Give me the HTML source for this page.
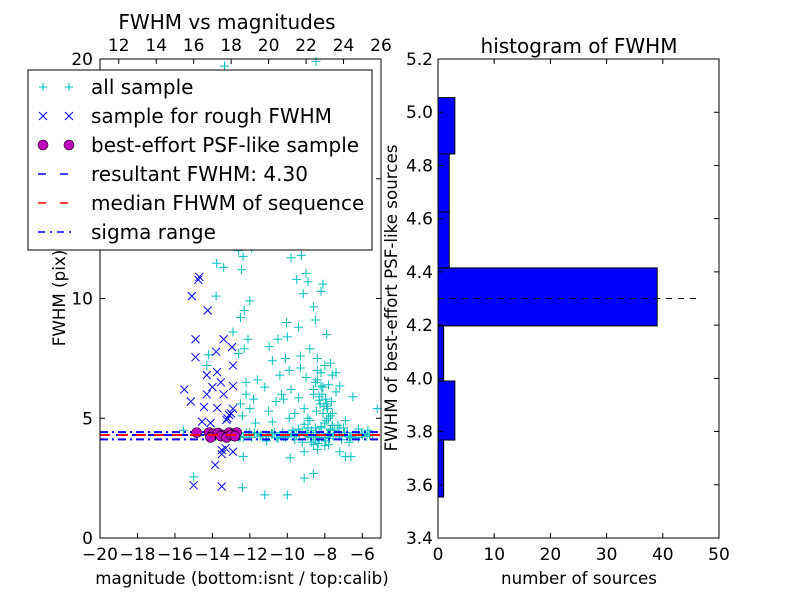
<!DOCTYPE html>
<html><head><meta charset="utf-8">
<style>
body{margin:0;background:#fff;}
svg{display:block;font-family:"DejaVu Sans","Liberation Sans",sans-serif;}
</style></head>
<body>
<svg id="chart" width="800" height="600" xmlns="http://www.w3.org/2000/svg">
<rect x="0" y="0" width="800" height="600" fill="#fff"/>
<g id="left"></g>
<g id="right"></g>
</svg>
<script>
// ---- scatter data (magnitude, FWHM) ----
const allMag = [-13.35,-8.47,-12.6,-11.9,-9.8,-13.4,-13.77,-12.36,-12.44,-13.8,-12.0,-12.3,-12.5,-12.9,-12.1,-12.3,-14.2,-14.3,-12.6,-10.97,-10.5,-10.04,-9.5,-9.25,-9.0,-8.9,-8.1,-8.2,-9.15,-8.6,-8.5,-9.4,-10.0,-7.9,-10.1,-10.8,-10.4,-9.9,-9.3,-8.8,-8.4,-7.7,-7.4,-9.3,-9.0,-8.4,-8.5,-8.2,-8.6,-9.1,-8.9,-8.3,-7.9,-7.6,-7.2,-6.5,-6.9,-5.2,-12.2,-11.6,-11.2,-12.2,-11.8,-12.5,-12.0,-12.4,-11.0,-10.6,-10.3,-9.8,-10.2,-9.4,-9.6,-9.9,-10.8,-11.7,-7.2,-6.2,-5.7,-7.6,-8.5,-9.1,-12.35,-9.85,-9.1,-8.6,-12.4,-11.2,-10.0,-6.9,-6.6,-7.2,-8.4,-9.1,-7.8,-15.0,-15.55,
-12.8,-12.5,-12.2,-11.9,-11.6,-11.3,-11.0,-10.7,-10.4,-10.1,-9.8,-9.5,-9.2,-8.9,-8.6,-8.3,-8.0,-7.7,-7.4,-7.1,-6.8,-6.5,-6.2,-5.9,-5.6,-12.6,-12.0,-11.4,-10.8,-10.2,-9.6,-9.0,-8.4,-7.8,-7.2,-6.6,-6.0,-8.2,-8.0,-7.8,-7.6,-8.1,-7.9,-7.7,-8.3,-8.7,-8.8,-7.5,-7.3,-7.0,-8.05,-7.85,-8.25,-7.95,-8.45,-7.65,-8.15,
-12.65,-12.35,-12.05,-11.75,-11.45,-11.15,-10.85,-10.55,-10.25,-9.95,-9.65,-9.35,-9.05,-8.75,-8.45,-8.15,-7.85,-7.55,-7.25,-6.95,-6.65,-6.35,-6.05,-5.75,-5.45,-8.6,-8.4,-8.2,-8.0,-7.8,-7.6,-7.4,-8.3,-8.1,-7.9,-7.7,-8.5,-8.35,-7.95,-7.75,-8.0,-8.2,-7.7,-8.6,-9.2,-9.6,-10.5,-11.1,-7.1,-6.7,-8.9,-8.7,-9.4,-9.7];
const allFwhm = [19.7,19.9,12.0,12.1,11.7,11.3,11.47,11.75,11.2,10.1,9.9,9.5,9.2,8.6,8.3,7.9,7.65,7.2,7.7,7.99,8.3,9.0,10.8,11.8,11.05,10.7,10.6,10.3,10.2,9.65,9.1,8.8,8.4,8.5,7.5,7.4,6.8,7.0,7.6,7.9,7.5,7.3,6.9,7.1,6.7,7.0,6.5,6.35,6.0,5.4,5.0,5.75,5.6,5.2,6.35,5.9,4.9,5.4,6.5,6.6,6.3,6.0,5.8,5.6,5.4,5.1,5.3,5.7,6.0,6.2,5.8,5.85,5.2,5.0,4.85,4.8,4.6,4.55,4.5,4.7,4.6,4.75,3.4,3.35,2.5,2.7,2.1,1.8,1.8,3.4,3.4,3.6,3.7,3.6,3.9,2.55,4.5,
4.3,4.25,4.4,4.2,4.35,4.3,4.25,4.4,4.3,4.2,4.35,4.3,4.45,4.25,4.3,4.4,4.2,4.35,4.3,4.25,4.4,4.3,4.2,4.35,4.3,4.2,4.4,4.3,4.35,4.25,4.3,4.4,4.2,4.35,4.3,4.25,4.3,4.6,4.8,5.0,4.7,5.2,4.9,4.55,4.1,4.0,4.9,4.5,4.7,4.6,5.5,5.4,5.6,5.8,5.3,5.7,6.0,
4.35,4.2,4.3,4.4,4.25,4.3,4.35,4.2,4.4,4.3,4.25,4.35,4.3,4.2,4.4,4.3,4.35,4.25,4.3,4.4,4.2,4.3,4.35,4.25,4.3,6.2,6.6,6.9,7.2,6.4,6.8,6.1,5.9,6.3,5.5,5.1,4.1,3.95,4.05,4.15,3.85,4.65,4.5,3.9,4.0,4.1,4.15,4.05,4.1,4.0,4.6,4.5,4.55,4.5];
const roughMag = [-14.75,-14.7,-15.1,-14.25,-14.9,-14.9,-13.4,-12.95,-12.9,-13.8,-14.3,-13.75,-15.5,-15.15,-13.55,-14.3,-13.4,-12.9,-14.0,-14.45,-13.75,-12.9,-13.25,-13.1,-14.55,-14.1,-13.5,-13.3,-12.9,-13.5,-13.85,-15.0,-13.5,-13.2,-13.0];
const roughFwhm = [10.78,10.9,10.1,9.5,8.3,7.55,8.3,7.97,7.2,7.78,6.8,6.93,6.2,5.7,6.5,6.0,6.0,6.35,6.3,5.47,5.43,5.4,4.93,5.13,4.86,4.8,3.67,3.75,3.6,3.5,3.05,2.2,2.15,5.0,5.2];
const bestMag = [-14.84,-14.18,-13.96,-13.7,-13.43,-13.1,-12.9,-12.7,-14.1,-13.55,-13.25,-13.0,-12.8];
const bestFwhm = [4.4,4.4,4.35,4.38,4.3,4.4,4.35,4.4,4.2,4.25,4.2,4.3,4.25];
const resultFwhm = 4.30, medianFwhm = 4.30, sigmaLow = 4.12, sigmaHigh = 4.42;
const bottomTicks = [-20,-18,-16,-14,-12,-10,-8,-6];
const topTicks = [12,14,16,18,20,22,24,26];
const leftYTicks = [0,5,10,15,20];
// ---- histogram data ----
const binEdges = [3.554,3.768,3.99,4.197,4.415,4.625,4.843,5.055];
const binCounts = [1,3,1,39,2,2,3];
const histYTicks = [3.4,3.6,3.8,4.0,4.2,4.4,4.6,4.8,5.0,5.2];
const histXTicks = [0,10,20,30,40,50];

const NS="http://www.w3.org/2000/svg";
function mk(parent,tag,attrs,text){const e=document.createElementNS(NS,tag);for(const k in attrs)e.setAttribute(k,attrs[k]);if(text!==undefined)e.textContent=text;parent.appendChild(e);return e;}
const fmtNum=v=>String(v).replace('-','\u2212');
const TF=17;

// Left axes
const L={x0:100,x1:381,y0:59,y1:538};
const lx=m=>L.x0+(m+20)/15*(L.x1-L.x0);
const ly=f=>L.y1-f/20*(L.y1-L.y0);
const tx=t=>lx(t-31);
const left=document.getElementById('left');
mk(left,'rect',{x:L.x0,y:L.y0,width:L.x1-L.x0,height:L.y1-L.y0,fill:'#fff'});
const pts=mk(left,'g',{});

const P=4.5;
allMag.forEach((m,i)=>{const x=lx(m),y=ly(allFwhm[i]);
 const p=mk(pts,'path',{d:`M${x-P},${y}H${x+P}M${x},${y-P}V${y+P}`,stroke:'#00bfbf','stroke-width':1,fill:'none'});
 });
const rg=mk(left,'g',{});

roughMag.forEach((m,i)=>{const x=lx(m),y=ly(roughFwhm[i]);
 const p=mk(rg,'path',{d:`M${x-4},${y-4}L${x+4},${y+4}M${x-4},${y+4}L${x+4},${y-4}`,stroke:'#0000ff','stroke-width':1,fill:'none'});
 });
function hline(g,f,color,dash,name){const l=mk(g,'line',{x1:L.x0,x2:L.x1,y1:ly(f),y2:ly(f),stroke:color,'stroke-width':2,'stroke-dasharray':dash});
 }
hline(left,sigmaHigh,'#0000ff','8,4,2,4','sigma-upper-line');
hline(left,sigmaLow,'#0000ff','8,4,2,4','sigma-lower-line');
hline(left,resultFwhm,'#0000ff','8,8','resultant-fwhm-line');
const bg=mk(left,'g',{});

bestMag.forEach((m,i)=>{const c=mk(bg,'circle',{cx:lx(m),cy:ly(bestFwhm[i]),r:5,fill:'#bf00bf',stroke:'#000','stroke-width':0.6});
 });
hline(left,medianFwhm,'#ff0000','10,8','median-fwhm-line');
mk(left,'rect',{x:L.x0,y:L.y0,width:L.x1-L.x0,height:L.y1-L.y0,fill:'none',stroke:'#000','stroke-width':1});
bottomTicks.forEach(t=>{const x=lx(t);mk(left,'path',{d:`M${x},${L.y1}v-5`,stroke:'#000'});
 const tl=mk(left,'text',{x:x,y:560,'font-size':TF,'text-anchor':'middle'},fmtNum(t));
 });
topTicks.forEach(t=>{const x=tx(t);mk(left,'path',{d:`M${x},${L.y0}v5`,stroke:'#000'});
 const tl=mk(left,'text',{x:x,y:51,'font-size':TF,'text-anchor':'middle'},fmtNum(t));
 });
leftYTicks.forEach(t=>{const y=ly(t);mk(left,'path',{d:`M${L.x0},${y}h5M${L.x1},${y}h-5`,stroke:'#000'});
 const tl=mk(left,'text',{x:93,y:y+6,'font-size':TF,'text-anchor':'end'},fmtNum(t));
 });
let t=mk(left,'text',{x:227,y:29,'font-size':20,'text-anchor':'middle'},'FWHM vs magnitudes');

t=mk(left,'text',{x:242,y:584,'font-size':16.7,'text-anchor':'middle'},'magnitude (bottom:isnt / top:calib)');

t=mk(left,'text',{x:0,y:0,'font-size':16.7,'text-anchor':'middle',transform:'translate(65,298) rotate(-90)'},'FWHM (pix)');

// legend
const lg=mk(left,'g',{});

mk(lg,'rect',{x:28,y:70,width:344,height:180,fill:'#fff',stroke:'#000','stroke-width':1});
const labels=['all sample','sample for rough FWHM','best-effort PSF-like sample','resultant FWHM: 4.30','median FHWM of sequence','sigma range'];
labels.forEach((s,i)=>{const y=87+i*29;
 const e=mk(lg,'g',{});
 if(i===0)[43,69].forEach(x=>mk(e,'path',{d:`M${x-4},${y}H${x+4}M${x},${y-4}V${y+4}`,stroke:'#00bfbf'}));
 if(i===1)[43,69].forEach(x=>mk(e,'path',{d:`M${x-4},${y-4}L${x+4},${y+4}M${x-4},${y+4}L${x+4},${y-4}`,stroke:'#0000ff'}));
 if(i===2)[43,69].forEach(x=>mk(e,'circle',{cx:x,cy:y,r:5,fill:'#bf00bf',stroke:'#000','stroke-width':0.6}));
 if(i===3)mk(e,'line',{x1:38,x2:76,y1:y,y2:y,stroke:'#0000ff','stroke-width':1.5,'stroke-dasharray':'8,14'});
 if(i===4)mk(e,'line',{x1:38,x2:76,y1:y,y2:y,stroke:'#ff0000','stroke-width':1.5,'stroke-dasharray':'8,14'});
 if(i===5)mk(e,'line',{x1:38,x2:76,y1:y,y2:y,stroke:'#0000ff','stroke-width':1.5,'stroke-dasharray':'7,5,2,5'});
 mk(e,'text',{x:91,y:y+7,'font-size':20},s);});

// Right axes
const R={x0:438,x1:719,y0:59,y1:538};
const rx=c=>R.x0+c/50*(R.x1-R.x0);
const ry=v=>R.y1-(v-3.4)/1.8*(R.y1-R.y0);
const right=document.getElementById('right');
const bars=mk(right,'g',{});

binCounts.forEach((c,i)=>{const y=ry(binEdges[i+1]),h=ry(binEdges[i])-y;
 const b=mk(bars,'rect',{x:R.x0,y:y,width:rx(c)-R.x0,height:h,fill:'#0000ff',stroke:'#000','stroke-width':1});
 });
const dl=mk(right,'line',{x1:R.x0,x2:rx(46),y1:ry(resultFwhm),y2:ry(resultFwhm),stroke:'#000','stroke-width':1,'stroke-dasharray':'6,6'});

mk(right,'rect',{x:R.x0,y:R.y0,width:R.x1-R.x0,height:R.y1-R.y0,fill:'none',stroke:'#000','stroke-width':1});
histXTicks.forEach(v=>{const x=rx(v);mk(right,'path',{d:`M${x},${R.y1}v-5M${x},${R.y0}v5`,stroke:'#000'});
 const tl=mk(right,'text',{x:x,y:560,'font-size':TF,'text-anchor':'middle'},String(v));
 });
histYTicks.forEach(v=>{const y=ry(v);mk(right,'path',{d:`M${R.x0},${y}h5M${R.x1},${y}h-5`,stroke:'#000'});
 const tl=mk(right,'text',{x:433,y:y+6,'font-size':TF,'text-anchor':'end'},v.toFixed(1));
 });
t=mk(right,'text',{x:579,y:53,'font-size':20,'text-anchor':'middle'},'histogram of FWHM');

t=mk(right,'text',{x:579,y:584,'font-size':16.7,'text-anchor':'middle'},'number of sources');

t=mk(right,'text',{x:0,y:0,'font-size':16.7,'text-anchor':'middle',transform:'translate(397,298) rotate(-90)'},'FWHM of best-effort PSF-like sources');

</script>
</body></html>
